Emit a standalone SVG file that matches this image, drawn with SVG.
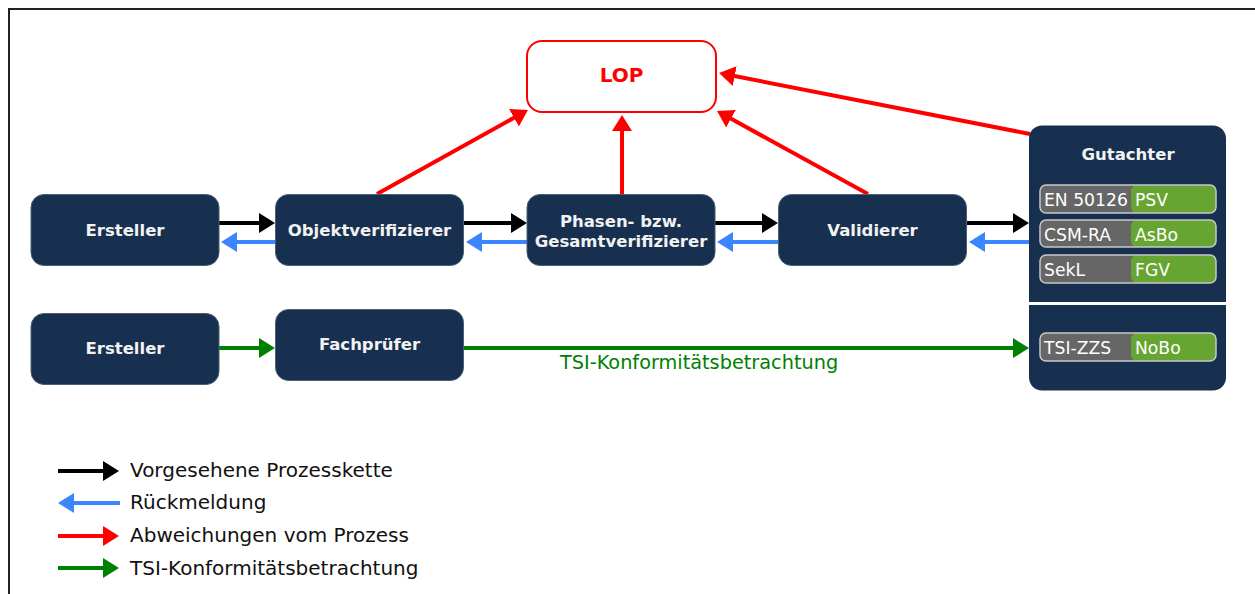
<svg xmlns="http://www.w3.org/2000/svg" width="1255" height="594" viewBox="0 0 1255 594">
<style>
.node{fill:#17304f;stroke:#4a6076;stroke-width:1}
.lbl{font-family:"DejaVu Sans",Verdana,sans-serif;font-weight:bold;font-size:16.5px;fill:#f2f2f2;text-anchor:middle}
.row{font-family:"DejaVu Sans",Verdana,sans-serif;font-size:17.2px;fill:#ffffff}
.leg{font-family:"DejaVu Sans",Verdana,sans-serif;font-size:20px;fill:#111111}
.blk{stroke:#000;stroke-width:4;fill:none}
.blu{stroke:#3b86ff;stroke-width:4;fill:none}
.red{stroke:#ff0000;stroke-width:4;fill:none}
.grn{stroke:#008000;stroke-width:4;fill:none}
.gray{fill:#666666}
.green{fill:#66a532}
.rowb{fill:none;stroke:#c8c8c8;stroke-width:1.5}
</style>
<defs>
<marker id="aK" markerUnits="userSpaceOnUse" markerWidth="16" markerHeight="20" refX="3" refY="10" orient="auto" viewBox="0 0 16 20"><path d="M0,0 L16,10 L0,20 Z" fill="#000"/></marker>
<marker id="aB" markerUnits="userSpaceOnUse" markerWidth="16" markerHeight="20" refX="3" refY="10" orient="auto" viewBox="0 0 16 20"><path d="M0,0 L16,10 L0,20 Z" fill="#3b86ff"/></marker>
<marker id="aR" markerUnits="userSpaceOnUse" markerWidth="16" markerHeight="20" refX="3" refY="10" orient="auto" viewBox="0 0 16 20"><path d="M0,0 L16,10 L0,20 Z" fill="#ff0000"/></marker>
<marker id="aG" markerUnits="userSpaceOnUse" markerWidth="16" markerHeight="20" refX="3" refY="10" orient="auto" viewBox="0 0 16 20"><path d="M0,0 L16,10 L0,20 Z" fill="#008000"/></marker>
</defs>
<rect width="1255" height="594" fill="#ffffff"/>
<path d="M9,600 L9,9 L1260,9" fill="none" stroke="#222" stroke-width="2"/>

<g id="connectors">
<path class="blk" d="M219,223 H262" marker-end="url(#aK)"/>
<path class="blk" d="M464,223 H514" marker-end="url(#aK)"/>
<path class="blk" d="M715,223 H765" marker-end="url(#aK)"/>
<path class="blk" d="M967,223 H1016" marker-end="url(#aK)"/>
<path class="blu" d="M275,242 H234" marker-end="url(#aB)"/>
<path class="blu" d="M527,242 H479" marker-end="url(#aB)"/>
<path class="blu" d="M778,242 H730" marker-end="url(#aB)"/>
<path class="blu" d="M1029,242 H982" marker-end="url(#aB)"/>
<path class="grn" d="M219,348 H262" marker-end="url(#aG)"/>
<path class="grn" d="M464,348 H1016" marker-end="url(#aG)"/>
<path class="red" d="M377,194 L516.6,116.3" marker-end="url(#aR)"/>
<path class="red" d="M622,194 L622,128" marker-end="url(#aR)"/>
<path class="red" d="M868,194 L728.4,117.3" marker-end="url(#aR)"/>
<path class="red" d="M1030,134 L731.8,75.5" marker-end="url(#aR)"/>
<text x="560" y="369" font-family="DejaVu Sans, Verdana, sans-serif" font-size="19.3px" fill="#008000">TSI-Konformitätsbetrachtung</text>
</g>

<g id="lop">
<rect x="527" y="41" width="189" height="71" rx="15" fill="#fff" stroke="#ff0000" stroke-width="2"/>
<text x="621.5" y="82" font-family="DejaVu Sans, Verdana, sans-serif" font-weight="bold" font-size="20px" fill="#ff0000" text-anchor="middle">LOP</text>
</g>

<g id="ersteller1">
<rect class="node" x="31" y="194.5" width="188" height="71" rx="13"/>
<text class="lbl" x="125" y="235.5">Ersteller</text>
</g>
<g id="objektverifizierer">
<rect class="node" x="275.5" y="194.5" width="188" height="71" rx="13"/>
<text class="lbl" x="369.5" y="235.5">Objektverifizierer</text>
</g>
<g id="gesamtverifizierer">
<rect class="node" x="527" y="194.5" width="188" height="71" rx="13"/>
<text class="lbl" x="621" y="227">Phasen- bzw.</text>
<text class="lbl" x="621" y="247">Gesamtverifizierer</text>
</g>
<g id="validierer">
<rect class="node" x="778.5" y="194.5" width="188" height="71" rx="13"/>
<text class="lbl" x="872.5" y="235.5">Validierer</text>
</g>
<g id="ersteller2">
<rect class="node" x="31" y="313.5" width="188" height="71" rx="13"/>
<text class="lbl" x="125" y="354">Ersteller</text>
</g>
<g id="fachpruefer">
<rect class="node" x="275.5" y="309.5" width="188" height="71" rx="13"/>
<text class="lbl" x="369.5" y="350">Fachprüfer</text>
</g>

<g id="gutachter">
<rect x="1029" y="125.5" width="197" height="265" rx="13" fill="#17304f"/>
<rect x="1029" y="302" width="197" height="3" fill="#ffffff"/>
<text class="lbl" x="1128" y="159.5">Gutachter</text>
<g id="row-en50126">
<rect class="gray" x="1040" y="185" width="176" height="28" rx="6"/>
<rect class="green" x="1131" y="185" width="85" height="28" rx="6"/>
<rect class="rowb" x="1040" y="185" width="176" height="28" rx="6"/>
<text class="row" x="1044" y="206">EN 50126</text>
<text class="row" x="1135" y="206">PSV</text>
</g>
<g id="row-csmra">
<rect class="gray" x="1040" y="220" width="176" height="27" rx="6"/>
<rect class="green" x="1131" y="220" width="85" height="27" rx="6"/>
<rect class="rowb" x="1040" y="220" width="176" height="27" rx="6"/>
<text class="row" x="1044" y="241">CSM-RA</text>
<text class="row" x="1135" y="241">AsBo</text>
</g>
<g id="row-sekl">
<rect class="gray" x="1040" y="255" width="176" height="28" rx="6"/>
<rect class="green" x="1131" y="255" width="85" height="28" rx="6"/>
<rect class="rowb" x="1040" y="255" width="176" height="28" rx="6"/>
<text class="row" x="1044" y="276">SekL</text>
<text class="row" x="1135" y="276">FGV</text>
</g>
<g id="row-tsizzs">
<rect class="gray" x="1040" y="333" width="176" height="28" rx="6"/>
<rect class="green" x="1131" y="333" width="85" height="28" rx="6"/>
<rect class="rowb" x="1040" y="333" width="176" height="28" rx="6"/>
<text class="row" x="1044" y="354">TSI-ZZS</text>
<text class="row" x="1135" y="354">NoBo</text>
</g>
</g>

<g id="legend">
<path class="blk" d="M58,471 H106" marker-end="url(#aK)"/>
<text class="leg" x="130" y="477">Vorgesehene Prozesskette</text>
<path class="blu" d="M120,503 H71" marker-end="url(#aB)"/>
<text class="leg" x="130" y="509">Rückmeldung</text>
<path class="red" d="M58,536 H106" marker-end="url(#aR)"/>
<text class="leg" x="130" y="542">Abweichungen vom Prozess</text>
<path class="grn" d="M58,568 H106" marker-end="url(#aG)"/>
<text class="leg" x="130" y="575">TSI-Konformitätsbetrachtung</text>
</g>
</svg>
